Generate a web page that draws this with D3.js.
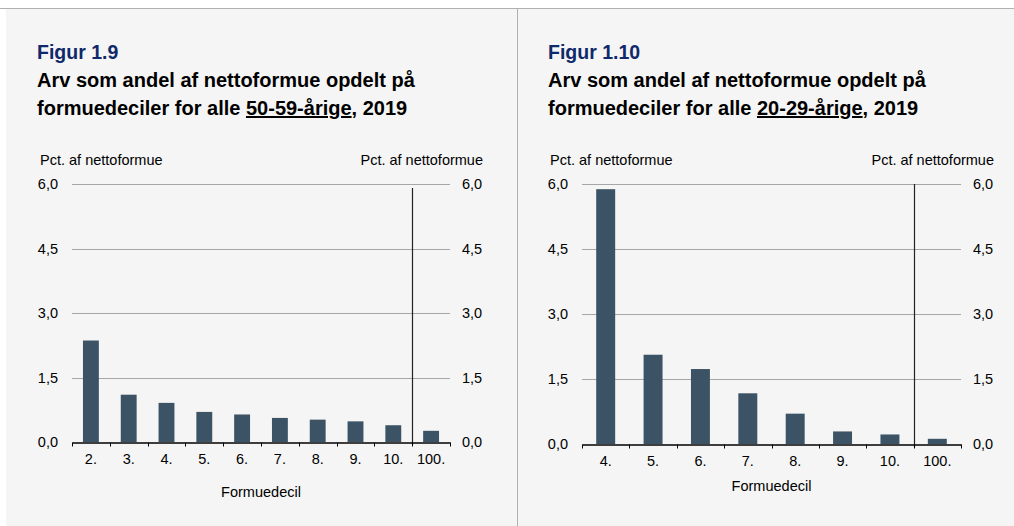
<!DOCTYPE html>
<html>
<head>
<meta charset="utf-8">
<script src="https://cdn.jsdelivr.net/npm/d3@7"></script>
<style>
	body { margin: 0; background: #fff; }
	svg { display: block; font-family: "Liberation Sans", Arial, sans-serif; }
</style>
</head>
<body>
<svg id="chart" width="1014" height="526"></svg>
<script>
// Data - Figur 1.9 (50-59-årige)
var deciles1 = ["2.", "3.", "4.", "5.", "6.", "7.", "8.", "9.", "10.", "100."];
var values1 = [2.36, 1.10, 0.91, 0.70, 0.64, 0.56, 0.52, 0.48, 0.39, 0.26];

// Data - Figur 1.10 (20-29-årige)
var deciles2 = ["4.", "5.", "6.", "7.", "8.", "9.", "10.", "100."];
var values2 = [5.88, 2.06, 1.73, 1.17, 0.70, 0.29, 0.22, 0.12];

var yTicks = [0, 1.5, 3, 4.5, 6];

var svg = d3.select("#chart");

// Panel backgrounds and frame lines
svg.append("rect").attr("x", 6).attr("y", 8).attr("width", 1008).attr("height", 518).attr("fill", "#f5f5f5");
svg.append("line").attr("x1", 0).attr("x2", 1014).attr("y1", 8.5).attr("y2", 8.5).attr("stroke", "#b0b0b0");
svg.append("line").attr("x1", 517.5).attr("x2", 517.5).attr("y1", 8).attr("y2", 526).attr("stroke", "#b0b0b0");

// Draw one figure panel
function drawPanel(opts) {
	let g = svg.append("g").attr("transform", "translate(" + opts.ox + ",0)");

	let x = d3.scaleBand().domain(opts.cats).range([opts.left, opts.right]),
		y = d3.scaleLinear().domain([0, 6]).range([opts.bottom, opts.top]);

	// Headings
	g.append("text").attr("x", opts.tx).attr("y", 59)
		.style("font-size", "19.5px").style("font-weight", "bold").attr("fill", "#10296b")
		.text(opts.fig);
	g.append("text").attr("x", opts.tx).attr("y", 87)
		.style("font-size", "20px").style("font-weight", "bold").attr("fill", "#000")
		.text("Arv som andel af nettoformue opdelt på");
	let t2 = g.append("text").attr("x", opts.tx).attr("y", 115)
		.style("font-size", "20px").style("font-weight", "bold").attr("fill", "#000");
	t2.append("tspan").text("formuedeciler for alle ");
	t2.append("tspan").attr("text-decoration", "underline").text(opts.age);
	t2.append("tspan").text(", 2019");

	// Axis titles
	g.append("text").attr("x", opts.left - 32).attr("y", 165)
		.style("font-size", "14.5px").attr("fill", "#000").text("Pct. af nettoformue");
	g.append("text").attr("x", opts.right + 33).attr("y", 165).attr("text-anchor", "end")
		.style("font-size", "14.5px").attr("fill", "#000").text("Pct. af nettoformue");

	// Grid lines
	g.selectAll(".grid").data(yTicks.filter(d => d > 0)).enter()
		.append("line").attr("class", "grid")
		.attr("x1", opts.left).attr("x2", opts.right)
		.attr("y1", d => Math.round(y(d)) + 0.5).attr("y2", d => Math.round(y(d)) + 0.5)
		.attr("stroke", "#a6a6a6");

	// Tick labels left and right
	let fmt = d => d3.format(".1f")(d).replace(".", ",");
	g.selectAll(".yl").data(yTicks).enter().append("text")
		.attr("x", opts.left - 14).attr("y", d => y(d) + 5).attr("text-anchor", "end")
		.style("font-size", "14.5px").text(fmt);
	g.selectAll(".yr").data(yTicks).enter().append("text")
		.attr("x", opts.right + 12).attr("y", d => y(d) + 5)
		.style("font-size", "14.5px").text(fmt);

	// Bars
	let bw = x.bandwidth() * opts.barFrac;
	g.selectAll(".bar").data(opts.values).enter().append("rect")
		.attr("x", (d, i) => x(opts.cats[i]) + (x.bandwidth() - bw) / 2)
		.attr("y", d => y(d))
		.attr("width", bw)
		.attr("height", d => y(0) - y(d))
		.attr("fill", "#3b5364");

	// Separator before 100.
	let sx = Math.round(x("100.")) + 0.5;
	g.append("line").attr("x1", sx).attr("x2", sx).attr("y1", opts.top + opts.sepTop).attr("y2", opts.bottom + 3)
		.attr("stroke", "#222").attr("stroke-width", 1.2);

	// X axis
	let ax = g.append("g").attr("transform", "translate(0," + (Math.round(y(0)) + 0.5) + ")")
		.call(d3.axisBottom(x).tickSize(0).tickPadding(11));
	ax.select(".domain").attr("stroke", "#000").attr("stroke-width", 1.5);
	ax.selectAll("text").style("font-size", "14.5px").style("font-family", "Liberation Sans, Arial, sans-serif").attr("fill", "#000");
	let bounds = opts.cats.map(c => x(c)).concat([opts.right]);
	ax.selectAll(".bt").data(bounds).enter().append("line")
		.attr("x1", d => Math.round(d) + 0.5).attr("x2", d => Math.round(d) + 0.5)
		.attr("y1", 0).attr("y2", 4).attr("stroke", "#000");

	g.append("text").attr("x", (opts.left + opts.right) / 2).attr("y", opts.xTitleY)
		.attr("text-anchor", "middle").style("font-size", "14.5px").text("Formuedecil");
}

drawPanel({
	ox: 0, tx: 37, fig: "Figur 1.9", age: "50-59-årige",
	cats: deciles1, values: values1,
	left: 72, right: 450, top: 184, bottom: 442, barFrac: 0.42, sepTop: 4, xTitleY: 497
});

drawPanel({
	ox: 510, tx: 38, fig: "Figur 1.10", age: "20-29-årige",
	cats: deciles2, values: values2,
	left: 72, right: 451, top: 184, bottom: 444, barFrac: 0.4, sepTop: 0, xTitleY: 491
});
</script>
</body>
</html>
